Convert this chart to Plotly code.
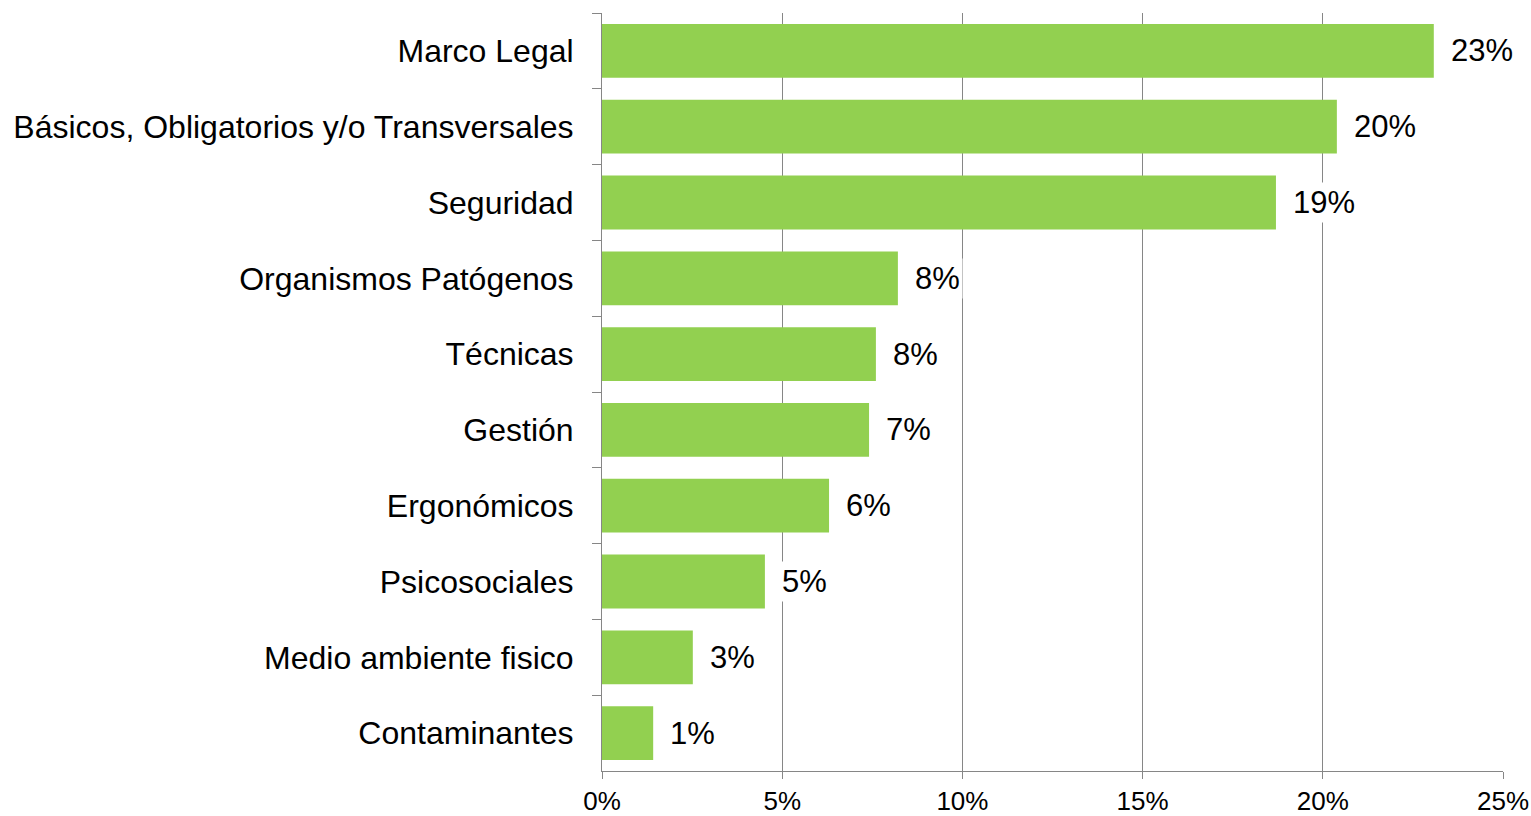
import plotly.graph_objects as go

categories = [
    "Marco Legal",
    "Básicos, Obligatorios y/o Transversales",
    "Seguridad",
    "Organismos Patógenos",
    "Técnicas",
    "Gestión",
    "Ergonómicos",
    "Psicosociales",
    "Medio ambiente fisico",
    "Contaminantes",
]
values = [0.2308, 0.2039, 0.1870, 0.0821, 0.0760, 0.0741, 0.0630, 0.0452, 0.0252, 0.0142]
value_labels = ["23%", "20%", "19%", "8%", "8%", "7%", "6%", "5%", "3%", "1%"]
x_tick_vals = [0, 0.05, 0.10, 0.15, 0.20, 0.25]
x_tick_text = ["0%", "5%", "10%", "15%", "20%", "25%"]

FONT = "Liberation Sans, Arial, sans-serif"
GRID = "#868686"
BAR = "#92D050"

fig = go.Figure()
fig.add_trace(go.Bar(
    x=values,
    y=categories,
    orientation="h",
    marker=dict(color=BAR, line=dict(width=0)),
    hoverinfo="skip",
))

for c, v, t in zip(categories, values, value_labels):
    fig.add_annotation(
        x=v, y=c, xref="x", yref="y",
        text=t, showarrow=False,
        xanchor="left", yanchor="middle",
        xshift=14,
        bgcolor="white", borderpad=2,
        font=dict(family=FONT, size=31, color="black"),
    )

fig.update_layout(
    width=1531, height=816,
    margin=dict(l=602, r=28, t=13, b=45, autoexpand=False),
    paper_bgcolor="white", plot_bgcolor="white",
    bargap=0.29,
    showlegend=False,
    font=dict(family=FONT, color="black"),
)
fig.update_xaxes(
    range=[0, 0.25],
    tickvals=x_tick_vals, ticktext=x_tick_text,
    showgrid=True, gridcolor=GRID, gridwidth=1,
    showline=True, linecolor=GRID, linewidth=1,
    ticks="outside", ticklen=7, tickcolor=GRID, tickwidth=1,
    ticklabelstandoff=0,
    tickfont=dict(family=FONT, size=26, color="black"),
    zeroline=False, fixedrange=True, automargin=False,
)
fig.update_yaxes(
    autorange="reversed",
    categoryorder="array", categoryarray=categories,
    showline=True, linecolor=GRID, linewidth=1,
    ticks="outside", ticklen=9, tickcolor=GRID, tickwidth=1,
    tickson="boundaries",
    ticklabelstandoff=21,
    tickfont=dict(family=FONT, size=32, color="black"),
    showgrid=False, zeroline=False, fixedrange=True, automargin=False,
)

# remove the browser's default 8px body margin so the figure fills the window
fig.write_html(
    "out.html",
    config={"displayModeBar": False, "staticPlot": True},
    post_script=(
        "document.body.style.margin='0px';"
        "document.body.style.overflow='hidden';"
        "document.documentElement.style.overflow='hidden';"
    ),
)
